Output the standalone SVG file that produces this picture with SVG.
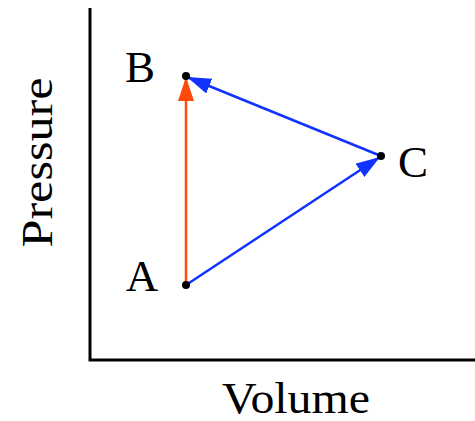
<svg xmlns="http://www.w3.org/2000/svg" width="475" height="421" viewBox="0 0 475 421">
<style>
text{font-family:"Liberation Serif","Times New Roman",serif;font-size:45px;fill:#000}
.ax{stroke:#000;stroke-width:3;fill:none}
.blue{stroke:#1133FF;stroke-width:2.5;fill:none}
.red{stroke:#FF4A0A;stroke-width:2.5;fill:none}
</style>
<defs>
<marker id="hb" viewBox="0 0 24 16" refX="24" refY="8" markerWidth="24" markerHeight="16" markerUnits="userSpaceOnUse" orient="auto"><path d="M0,0 L24,8 L0,16 Z" fill="#1133FF"/></marker>
<marker id="hr" viewBox="0 0 24 16" refX="24" refY="8" markerWidth="24" markerHeight="16" markerUnits="userSpaceOnUse" orient="auto"><path d="M0,0 L24,8 L0,16 Z" fill="#FF4A0A"/></marker>
</defs>
<g id="axes">
<path class="ax" d="M90,8 L90,360 L475,360"/>
<text x="296" y="413" text-anchor="middle" textLength="148" lengthAdjust="spacingAndGlyphs">Volume</text>
<text transform="translate(52,162.5) rotate(-90)" text-anchor="middle" textLength="170" lengthAdjust="spacingAndGlyphs">Pressure</text>
</g>
<g id="connectors">
<line class="red" x1="186" y1="285" x2="186" y2="77" marker-end="url(#hr)"/>
<line class="blue" x1="186" y1="285" x2="380" y2="157" marker-end="url(#hb)"/>
<line class="blue" x1="381" y1="156" x2="187" y2="77" marker-end="url(#hb)"/>
</g>
<g id="A"><circle cx="186" cy="285" r="4"/><text x="142" y="291" text-anchor="middle">A</text></g>
<g id="B"><circle cx="186" cy="76" r="4"/><text x="140" y="82" text-anchor="middle">B</text></g>
<g id="C"><circle cx="381" cy="156" r="4"/><text x="413" y="177" text-anchor="middle">C</text></g>
</svg>
